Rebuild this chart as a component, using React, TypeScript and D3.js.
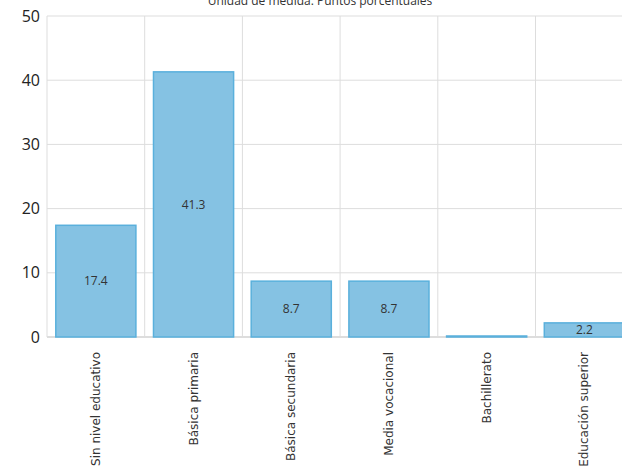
import React from "react";
import * as d3 from "d3";

const categories = [
  "Sin nivel educativo",
  "Básica primaria",
  "Básica secundaria",
  "Media vocacional",
  "Bachillerato",
  "Educación superior",
];
const values = [17.4, 41.3, 8.7, 8.7, 0, 2.2];
const yTicks = [0, 10, 20, 30, 40, 50];
const title = "Unidad de medida: Puntos porcentuales";

const W = 622;
const H = 476;
const left = 47;
const bandW = 97.7;
const top = 16;
const bottom = 337;

export default function App() {
  const x = d3
    .scaleBand<string>()
    .domain(categories)
    .range([left, left + bandW * categories.length])
    .paddingInner(0.18)
    .paddingOuter(0.09);
  const y = d3.scaleLinear().domain([0, 50]).range([bottom, top]);
  const step = x.step();
  const boundaries = categories.map((_, i) => left + step * x.paddingOuter() + 0 + i * step - (step * x.paddingInner()) / 2);

  return (
    <svg
      width={W}
      height={H}
      style={{ position: "absolute", left: 0, top: 0, background: "#fff" }}
    >
      <text
        x={320}
        y={5}
        textAnchor="middle"
        fontFamily="Open Sans"
        fontSize={12}
        fill="#333"
      >
        {title}
      </text>
      {yTicks.map((t) => (
        <g key={t}>
          <line x1={left} x2={W} y1={y(t)} y2={y(t)} stroke={t === 0 ? "#bbb" : "#ddd"} strokeWidth={1} />
          <text
            x={40}
            y={y(t)}
            dy="0.35em"
            textAnchor="end"
            fontFamily="Open Sans"
            fontSize={16}
            fill="#222"
          >
            {t}
          </text>
        </g>
      ))}
      <line x1={left} x2={left} y1={top} y2={bottom} stroke="#ddd" />
      {categories.map((c, i) =>
        i === 0 ? null : (
          <line
            key={c}
            x1={left + i * bandW}
            x2={left + i * bandW}
            y1={top}
            y2={bottom}
            stroke="#ddd"
          />
        )
      )}
      {categories.map((c, i) => {
        const v = values[i];
        const bx = x(c)!;
        const bw = x.bandwidth();
        const by = y(v);
        const bh = Math.max(y(0) - by, 1);
        return (
          <g key={c}>
            <rect
              x={bx}
              y={Math.min(by, bottom - 1)}
              width={bw}
              height={bh}
              fill="#85C2E3"
              stroke="#5AB0DC"
              strokeWidth={1.5}
            />
            {v > 0 && (
              <text
                x={bx + bw / 2}
                y={(by + bottom) / 2}
                dy="0.35em"
                textAnchor="middle"
                fontFamily="Open Sans"
                fontSize={12}
                fill="#333"
              >
                {v.toFixed(1)}
              </text>
            )}
          </g>
        );
      })}
      {categories.map((c) => {
        const cx = x(c)! + x.bandwidth() / 2;
        return (
          <text
            key={c}
            transform={`translate(${cx + 4},352) rotate(-90)`}
            textAnchor="end"
            fontFamily="DejaVu Sans"
            fontSize={12}
            fill="#333"
          >
            {c}
          </text>
        );
      })}
    </svg>
  );
}
